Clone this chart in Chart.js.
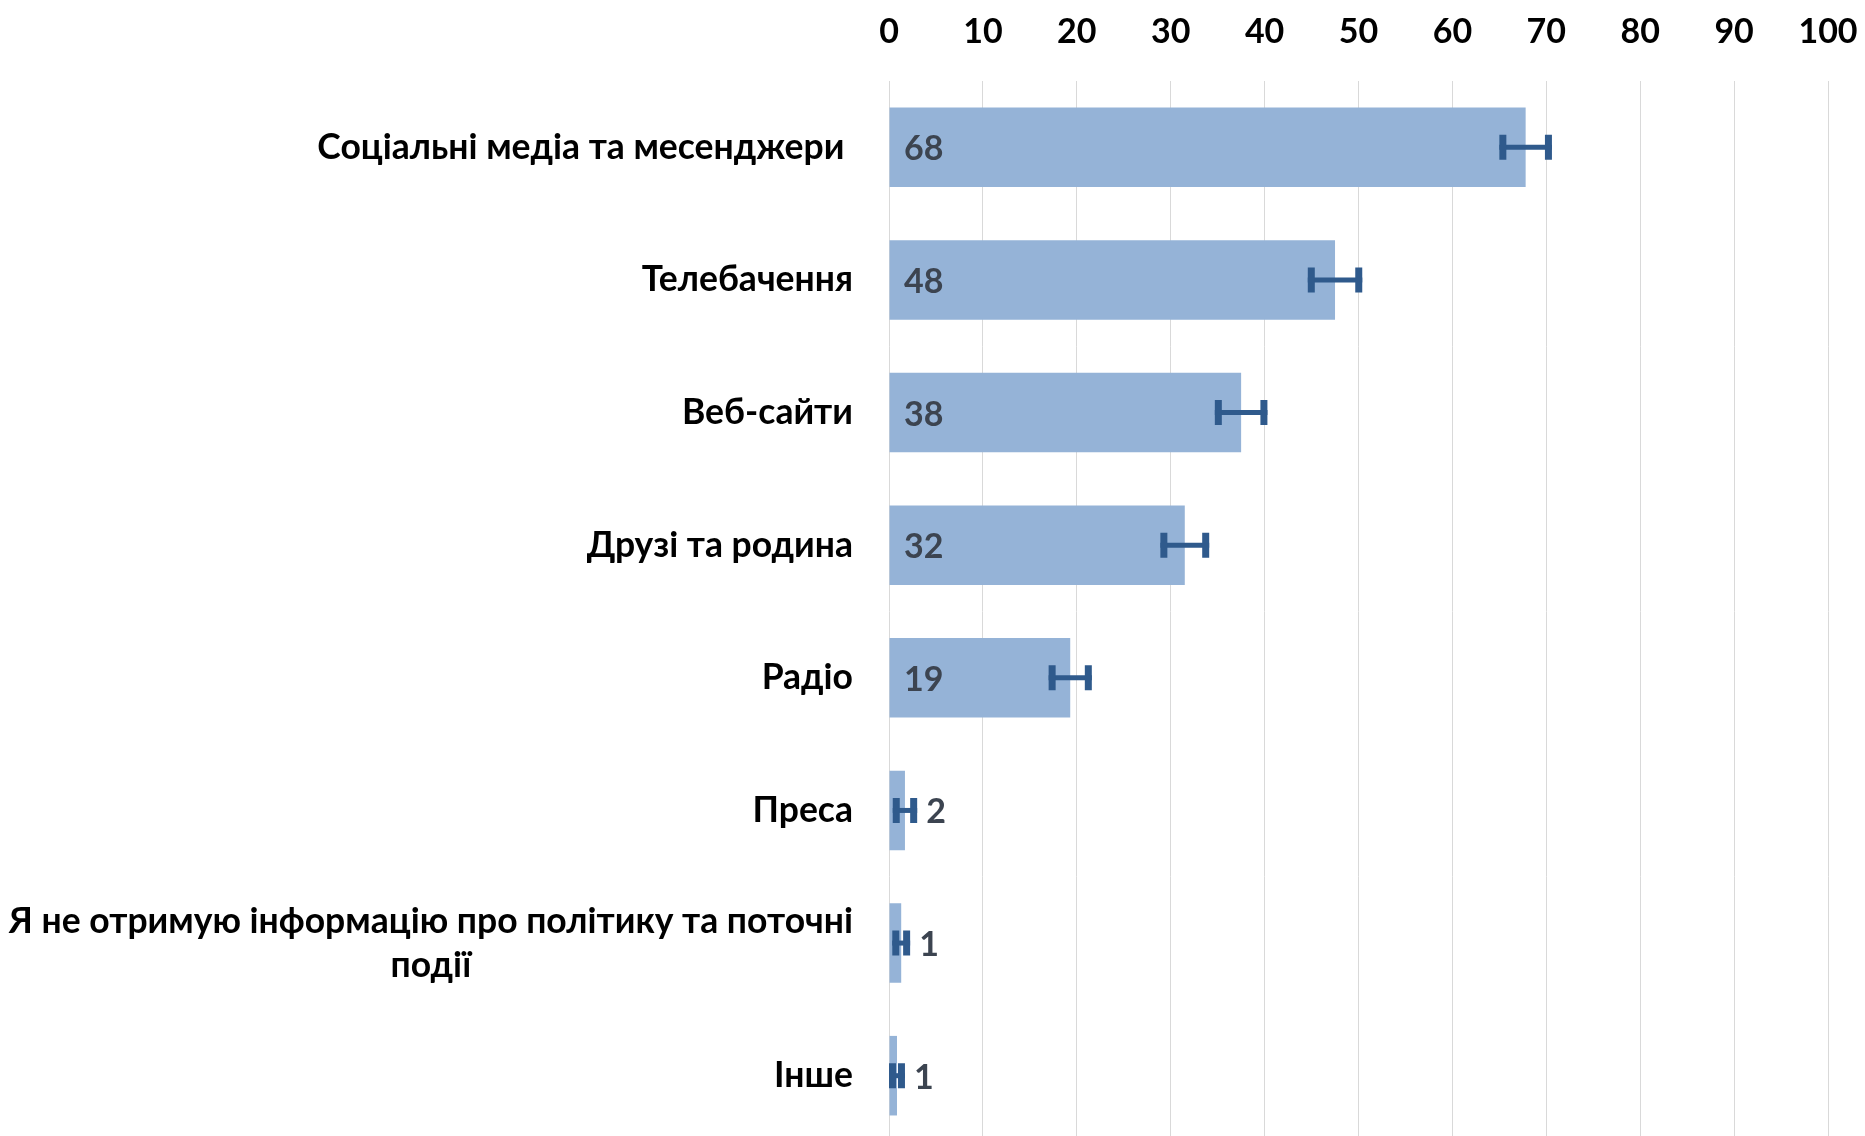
<!DOCTYPE html>
<html>
<head>
<meta charset="utf-8">
<script src="https://cdn.jsdelivr.net/npm/chart.js@4.4.1/dist/chart.umd.min.js"></script>
<style>
  html, body { margin: 0; padding: 0; background: #ffffff; overflow: hidden; }
  #wrap { width: 1865px; height: 1142px; }
</style>
</head>
<body>
<div id="wrap"><canvas id="c" width="1865" height="1142"></canvas></div>
<script>
// ---- data ----
const categories = [
  'Соціальні медіа та месенджери ',
  'Телебачення',
  'Веб-сайти',
  'Друзі та родина',
  'Радіо',
  'Преса',
  ['Я не отримую інформацію про політику та поточні', 'події'],
  'Інше'
];
const shares = [67.8, 47.5, 37.5, 31.5, 19.3, 1.7, 1.3, 0.85];
const errorMargins = [2.8, 2.9, 2.8, 2.6, 2.3, 1.3, 0.95, 0.85];
const xTicks = [0, 10, 20, 30, 40, 50, 60, 70, 80, 90, 100];

// ---- style ----
const FONT = 'Lato, "Open Sans", sans-serif';
const WEIGHT = 'bold';
const FS_CAT = 35.5;
const FS_NUM = 34;
const barColor = '#95B3D7';
const errColor = '#2F5A8C';
const labelColor = '#3C4450';

const overlayPlugin = {
  id: 'overlay',
  afterDatasetsDraw(chart) {
    const ctx = chart.ctx;
    const xs = chart.scales.x;
    const meta = chart.getDatasetMeta(0);
    const ds = chart.data.datasets[0];
    ctx.save();
    // error bars
    meta.data.forEach((bar, i) => {
      const v = ds.data[i];
      const e = ds.errors[i];
      const x1 = xs.getPixelForValue(Math.max(0, v - e));
      const x2 = xs.getPixelForValue(v + e);
      const y = bar.y;
      ctx.strokeStyle = errColor;
      ctx.lineWidth = 5;
      ctx.beginPath();
      ctx.moveTo(x1, y); ctx.lineTo(x2, y);
      ctx.stroke();
      ctx.lineWidth = 7;
      ctx.beginPath();
      ctx.moveTo(x1 + 3.5, y - 12.5); ctx.lineTo(x1 + 3.5, y + 12.5);
      ctx.moveTo(x2 - 3.5, y - 12.5); ctx.lineTo(x2 - 3.5, y + 12.5);
      ctx.stroke();
    });
    // value labels
    ctx.font = WEIGHT + ' ' + FS_NUM + 'px ' + FONT;
    ctx.fillStyle = labelColor;
    ctx.textBaseline = 'middle';
    ctx.textAlign = 'left';
    meta.data.forEach((bar, i) => {
      const v = ds.data[i];
      const e = ds.errors[i];
      let x;
      if (v >= 5) {
        x = xs.getPixelForValue(0) + 15;
      } else {
        x = xs.getPixelForValue(v + e) + 9;
      }
      ctx.fillText(String(Math.round(v)), x, bar.y + 2);
    });
    ctx.restore();
  },
  afterDraw(chart) {
    // category labels on the left
    const ctx = chart.ctx;
    const ys = chart.scales.y;
    const rightX = chart.chartArea.left - 36;
    ctx.save();
    ctx.font = WEIGHT + ' ' + FS_CAT + 'px ' + FONT;
    ctx.fillStyle = '#000000';
    ctx.textBaseline = 'middle';
    chart.data.labels.forEach((lab, i) => {
      const yc = ys.getPixelForTick(i);
      if (Array.isArray(lab)) {
        const lh = 44;
        const w0 = ctx.measureText(lab[0]).width;
        const centerX = rightX - w0 / 2;
        const y0 = yc - (lab.length - 1) * lh / 2;
        lab.forEach((line, k) => {
          if (k === 0) {
            ctx.textAlign = 'right';
            ctx.fillText(line, rightX, y0);
          } else {
            ctx.textAlign = 'center';
            ctx.fillText(line, centerX, y0 + k * lh);
          }
        });
      } else {
        ctx.textAlign = 'right';
        ctx.fillText(lab, rightX, yc);
      }
    });
    ctx.restore();
  }
};

new Chart(document.getElementById('c'), {
  type: 'bar',
  data: {
    labels: categories,
    datasets: [{
      data: shares,
      errors: errorMargins,
      backgroundColor: barColor,
      borderWidth: 0,
      categoryPercentage: 1.0,
      barPercentage: 0.6
    }]
  },
  options: {
    indexAxis: 'y',
    responsive: false,
    animation: false,
    devicePixelRatio: 1,
    layout: { padding: { top: 0, right: 0, left: 0, bottom: 0 } },
    plugins: { legend: { display: false }, tooltip: { enabled: false } },
    scales: {
      x: {
        position: 'top',
        min: 0,
        max: 100,
        afterBuildTicks(scale) { scale.ticks = xTicks.map(v => ({ value: v })); },
        afterFit(scale) {
          scale.height = 81;
          scale.paddingRight = 37;
          scale.paddingLeft = 0;
        },
        ticks: {
          color: '#000000',
          padding: 29,
          font: { family: FONT, size: FS_NUM, weight: WEIGHT }
        },
        grid: { color: '#D9D9D9', lineWidth: 1, drawTicks: false },
        border: { display: false }
      },
      y: {
        ticks: { display: false },
        grid: { display: false },
        border: { display: false },
        afterFit(scale) { scale.width = 889; }
      }
    }
  },
  plugins: [overlayPlugin]
});
</script>
</body>
</html>
